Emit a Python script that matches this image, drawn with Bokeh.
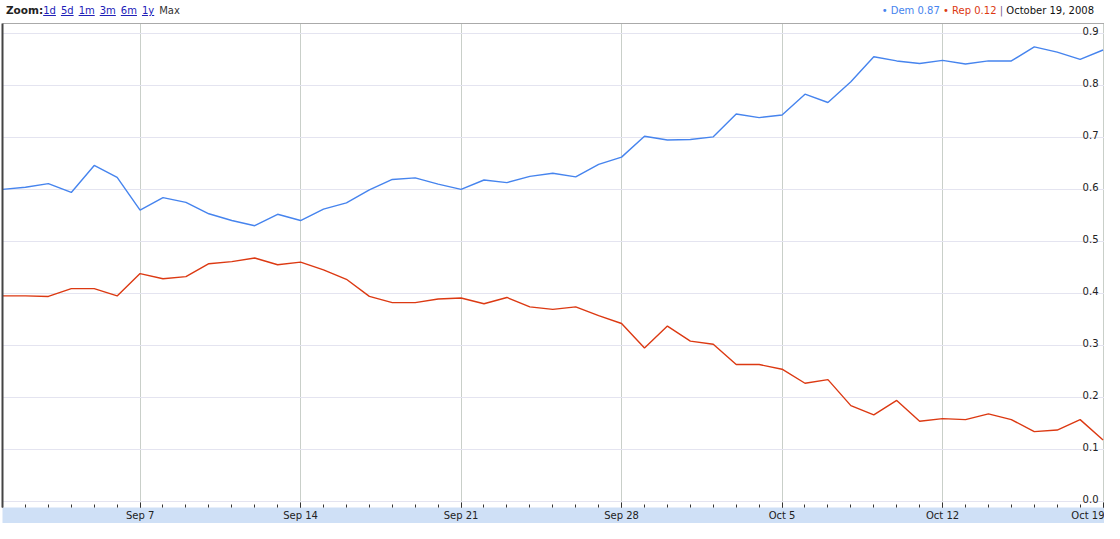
from datetime import datetime, timedelta
from bokeh.plotting import figure
from bokeh.models import (Range1d, FixedTicker, DatetimeAxis, Div)
from bokeh.layouts import column
from bokeh.core.properties import value
from bokeh.embed import file_html
from bokeh.resources import INLINE

# ---------------- data ----------------
start_day = datetime(2008, 9, 1)
dates = [start_day + timedelta(days=i) for i in range(49)]   # Sep 1 .. Oct 19, 2008

dem = [0.601, 0.605, 0.612, 0.595, 0.647, 0.624, 0.561, 0.585, 0.576, 0.554,
       0.541, 0.531, 0.553, 0.541, 0.563, 0.575, 0.600, 0.620, 0.623, 0.611,
       0.601, 0.619, 0.614, 0.626, 0.632, 0.625, 0.649, 0.663, 0.703, 0.696,
       0.697, 0.702, 0.746, 0.739, 0.744, 0.784, 0.768, 0.808, 0.856, 0.848,
       0.843, 0.849, 0.842, 0.848, 0.848, 0.875, 0.865, 0.851, 0.869]

rep = [0.396, 0.396, 0.395, 0.410, 0.410, 0.396, 0.439, 0.429, 0.433, 0.458,
       0.462, 0.469, 0.456, 0.461, 0.446, 0.428, 0.395, 0.383, 0.383, 0.390,
       0.392, 0.381, 0.393, 0.375, 0.370, 0.375, 0.358, 0.343, 0.296, 0.338,
       0.309, 0.303, 0.264, 0.264, 0.255, 0.228, 0.235, 0.185, 0.167, 0.195,
       0.155, 0.160, 0.158, 0.169, 0.158, 0.135, 0.138, 0.158, 0.119]

week_ticks = [datetime(2008, 9, 7), datetime(2008, 9, 14), datetime(2008, 9, 21),
              datetime(2008, 9, 28), datetime(2008, 10, 5), datetime(2008, 10, 12),
              datetime(2008, 10, 19)]
week_labels = ["Sep 7", "Sep 14", "Sep 21", "Sep 28", "Oct 5", "Oct 12", "Oct 19"]

y_ticks = [0.0, 0.1, 0.2, 0.3, 0.4, 0.5, 0.6, 0.7, 0.8, 0.9]
y_labels = ["0.0", "0.1", "0.2", "0.3", "0.4", "0.5", "0.6", "0.7", "0.8", "0.9"]

dem_color = "#4684ee"
rep_color = "#dc3912"
FONT = "DejaVu Sans"

def ms(d):
    return (d - datetime(1970, 1, 1)).total_seconds() * 1000.0

x_start = start_day
x_end = datetime(2008, 10, 19, 1, 30)

# ---------------- header ----------------
links = "".join(
    f'<span style="color:#2020b8;text-decoration:underline;margin-right:5px">{t}</span>'
    for t in ["1d", "5d", "1m", "3m", "6m", "1y"])
header_html = (
    f'<div style="font-family:\'{FONT}\';font-size:10px;width:1104px;height:22px;'
    'display:flex;justify-content:space-between;align-items:center;box-sizing:border-box;">'
    '<div style="padding-left:6px;white-space:nowrap;color:#222">'
    f'<b style="font-size:10.5px">Zoom:</b>{links}<span style="color:#333">Max</span></div>'
    '<div style="padding-right:10px;white-space:nowrap;">'
    f'<span style="color:{dem_color}">&bull;</span> '
    f'<span style="color:{dem_color}">Dem 0.87</span> '
    f'<span style="color:{rep_color}">&bull;</span> '
    f'<span style="color:{rep_color}">Rep 0.12</span> '
    '<span style="color:#7a5c8c">|</span> '
    '<span style="color:#111">October 19, 2008</span></div></div>'
)
header = Div(text=header_html, width=1104, height=22, margin=(0, 0, 0, 0))

# ---------------- figure ----------------
p = figure(width=1104, height=501, x_axis_type="datetime",
           output_backend="svg", toolbar_location=None,
           x_range=Range1d(x_start, x_end), y_range=Range1d(-0.011, 0.920),
           min_border_left=2, min_border_right=0, min_border_top=1,
           min_border_bottom=0)
p.outline_line_color = None
p.background_fill_color = "white"
p.border_fill_color = "white"

# bottom date axis (light blue band)
xax = p.below[0]
xax.ticker = FixedTicker(ticks=[ms(d) for d in week_ticks],
                         minor_ticks=[ms(d) for d in dates])
xax.major_label_overrides = {ms(d): lab for d, lab in zip(week_ticks, week_labels)}
xax.axis_line_color = None
xax.major_tick_in = 5
xax.major_tick_out = 0
xax.minor_tick_in = 3
xax.minor_tick_out = 0
xax.major_tick_line_color = "#333333"
xax.minor_tick_line_color = "#333333"
xax.major_label_text_font = FONT
xax.major_label_text_font_size = "10px"
xax.major_label_text_color = "#222222"
xax.major_label_standoff = 2
xax.background_fill_color = "#cfe0f6"

# left border line
yax = p.left[0]
yax.ticker = FixedTicker(ticks=[])
yax.major_label_text_font_size = "0px"
yax.major_tick_out = 0
yax.minor_tick_out = 0
yax.major_tick_in = 0
yax.minor_tick_in = 0
yax.major_label_standoff = 0
yax.axis_line_color = "#444444"
yax.axis_line_width = 2

# top border line
top_ax = DatetimeAxis(ticker=FixedTicker(ticks=[]), major_label_text_font_size="0px",
                      major_tick_out=0, minor_tick_out=0, major_tick_in=0,
                      minor_tick_in=0, major_label_standoff=0,
                      axis_line_color="#aaaaaa", axis_line_width=1)
p.add_layout(top_ax, "above")

# grids
p.xgrid.ticker = FixedTicker(ticks=[ms(d) for d in week_ticks])
p.xgrid.grid_line_color = "#c9cfc9"
p.ygrid.ticker = FixedTicker(ticks=y_ticks)
p.ygrid.grid_line_color = "#e4e4f0"

# series
p.line(dates, dem, line_color=dem_color, line_width=1.4)
p.line(dates, rep, line_color=rep_color, line_width=1.4)

# value labels inside the plot at the right edge
p.text(x=[x_end] * len(y_ticks), y=y_ticks, text=y_labels,
       text_font=value(FONT), text_font_size="10px", text_color="#222222",
       text_align="right", text_baseline="alphabetic", x_offset=-6, y_offset=-3)

layout = column(header, p, spacing=0)
open("out.html", "w").write(file_html(layout, INLINE))
